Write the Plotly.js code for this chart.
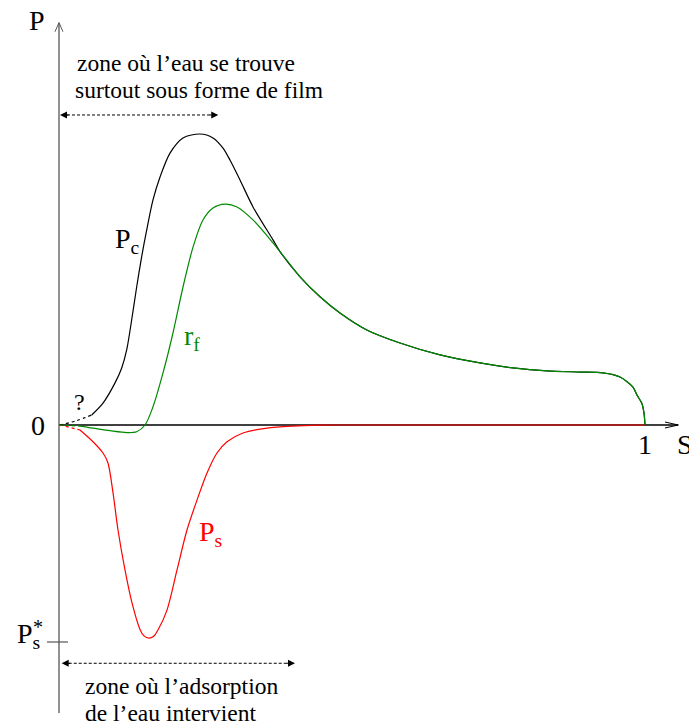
<!DOCTYPE html>
<html>
<head>
<meta charset="utf-8">
<script src="https://cdn.plot.ly/plotly-3.0.1.min.js"></script>
<style>
  html, body { margin: 0; padding: 0; background: #fff; }
  #chart { width: 689px; height: 727px; }
</style>
</head>
<body>
<div id="chart"></div>
<script>
// Saturation S (x) against pressure P (y); P_s* is the depth of the adsorption well (P = -1).

// Capillary pressure P_c, rising branch (solid part)
const S_pc = [0.0558, 0.0751, 0.0956, 0.107, 0.1155, 0.124, 0.1326, 0.1411, 0.1497, 0.1604,
              0.1724, 0.1894, 0.2116, 0.2406, 0.2628, 0.2799, 0.2918, 0.3089, 0.3311, 0.3652];
const P_pc = [0.046, 0.101, 0.194, 0.263, 0.346, 0.484, 0.637, 0.776, 0.899, 1.037,
              1.143, 1.253, 1.323, 1.341, 1.323, 1.276, 1.221, 1.129, 1.005, 0.853];
// P_c near S = 0 (uncertain, dotted)
const S_pcLow = [0.0017, 0.03, 0.0558];
const P_pcLow = [0.0, 0.02, 0.046];

// Film term r_f, rising branch (solid part)
const S_rf = [0.0358, 0.087, 0.1155, 0.1326, 0.1468, 0.1604, 0.1775, 0.1945, 0.2116, 0.2287,
              0.2457, 0.2628, 0.2833, 0.3038, 0.3311, 0.3652];
const P_rf = [-0.005, -0.026, -0.035, -0.031, 0.0, 0.084, 0.24, 0.424, 0.636, 0.82,
              0.945, 1.0, 1.018, 1.005, 0.945, 0.839];
const S_rfLow = [0.0017, 0.0358];
const P_rfLow = [0.0, -0.005];

// Common decreasing branch of P_c and r_f up to S = 1
const S_tail = [0.3771, 0.4113, 0.4454, 0.4795, 0.5251, 0.5819, 0.6502, 0.7184, 0.7747, 0.8328,
                0.8891, 0.9283, 0.9573, 0.9795, 0.9863, 0.9944, 0.9983, 1.0];
const P_tail = [0.799, 0.683, 0.591, 0.516, 0.438, 0.378, 0.323, 0.286, 0.263, 0.249,
                0.244, 0.24, 0.221, 0.175, 0.138, 0.101, 0.055, 0.0];

// Adsorption pressure P_s
const S_ps = [0.0358, 0.058, 0.0751, 0.0836, 0.0922, 0.1007, 0.1126, 0.1246, 0.1382, 0.1450,
              0.1536, 0.1621, 0.1689, 0.1843, 0.2014, 0.2184, 0.2355, 0.2526, 0.2696, 0.2867,
              0.314, 0.355, 0.3993, 0.4454, 0.4795, 0.6, 0.8, 1.0];
const P_ps = [-0.023, -0.077, -0.129, -0.175, -0.313, -0.484, -0.668, -0.82, -0.942, -0.972,
              -0.982, -0.972, -0.945, -0.853, -0.668, -0.484, -0.346, -0.221, -0.129, -0.077,
              -0.037, -0.014, -0.005, -0.001, 0.0, 0.0, 0.0, 0.0];
const S_psLow = [0.0017, 0.0358];
const P_psLow = [0.0, -0.023];

// Reference level and zone extents
const PS_STAR = -1;
const filmZone = [0.0017, 0.2718];
const adsorptionZone = [0.0046, 0.4027];

const BLACK = '#000000', GREEN = '#008a00', RED = '#ff0000', GREY = '#555555';
const FONT = 'Liberation Serif, Times New Roman, serif';

function curve(x, y, color, dash) {
  return {
    x: x, y: y, type: 'scatter', mode: 'lines', hoverinfo: 'skip', showlegend: false,
    line: { color: color, width: 1.2, dash: dash || 'solid', shape: 'spline', smoothing: 0.8 }
  };
}

const data = [
  curve(S_ps, P_ps, RED),
  curve(S_psLow, P_psLow, RED, 'dot'),
  curve(S_pc.concat(S_tail), P_pc.concat(P_tail), BLACK),
  curve(S_pcLow, P_pcLow, BLACK, 'dot'),
  curve(S_rf.concat(S_tail), P_rf.concat(P_tail), GREEN),
  curve(S_rfLow, P_rfLow, GREEN, 'dot')
];

// Axis geometry (data units)
const X_END = 1.0568, Y_TOP = 1.854, Y_BOT = -1.327;

const shapes = [
  // S axis with open arrow
  { type: 'line', layer: 'below', x0: 0, x1: X_END, y0: 0, y1: 0, line: { color: BLACK, width: 1.3 } },
  { type: 'line', x0: X_END - 0.0227, x1: X_END, y0: 0.0138, y1: 0, line: { color: BLACK, width: 1 } },
  { type: 'line', x0: X_END - 0.0227, x1: X_END, y0: -0.0138, y1: 0, line: { color: BLACK, width: 1 } },
  // P axis with open arrow
  { type: 'line', layer: 'below', x0: 0, x1: 0, y0: Y_BOT, y1: Y_TOP, line: { color: GREY, width: 1.3 } },
  { type: 'line', x0: -0.0068, x1: 0, y0: Y_TOP - 0.0415, y1: Y_TOP, line: { color: GREY, width: 1 } },
  { type: 'line', x0: 0.0068, x1: 0, y0: Y_TOP - 0.0415, y1: Y_TOP, line: { color: GREY, width: 1 } },
  // P_s* tick
  { type: 'line', x0: -0.0205, x1: 0.0154, y0: PS_STAR, y1: PS_STAR, line: { color: GREY, width: 1.2 } },
  // dashed zone spans
  { type: 'line', x0: filmZone[0] + 0.012, x1: filmZone[1] - 0.012, y0: 1.4286, y1: 1.4286,
    line: { color: BLACK, width: 1, dash: '3px,2px' } },
  { type: 'line', x0: adsorptionZone[0] + 0.012, x1: adsorptionZone[1] - 0.012, y0: -1.098, y1: -1.098,
    line: { color: BLACK, width: 1, dash: '3px,2px' } }
];

function head(x, y, dir) {
  return { x: x, y: y, xref: 'x', yref: 'y', text: '', showarrow: true, arrowhead: 2,
           arrowsize: 1.4, arrowwidth: 1, arrowcolor: BLACK, ax: 10 * dir, ay: 0, standoff: 0 };
}
function label(text, x, y, size, color, xanchor) {
  return { x: x, y: y, xref: 'x', yref: 'y', text: text, showarrow: false,
           xanchor: xanchor || 'center', yanchor: 'middle',
           font: { family: FONT, size: size, color: color || BLACK } };
}

const annotations = [
  head(filmZone[0], 1.4286, 1), head(filmZone[1], 1.4286, -1),
  head(adsorptionZone[0], -1.098, 1), head(adsorptionZone[1], -1.098, -1),
  label('zone où l’eau se trouve', 0.0273, 1.668, 23.5, BLACK, 'left'),
  label('surtout sous forme de film', 0.0233, 1.545, 23.5, BLACK, 'left'),
  label('zone où l’adsorption', 0.0405, -1.203, 23.5, BLACK, 'left'),
  label('de l’eau intervient', 0.0405, -1.325, 23.5, BLACK, 'left'),
  label('P', -0.037, 1.862, 28),
  label('0', -0.035, 0, 28),
  label('1', 1.0, -0.092, 28),
  label('S', 1.052, -0.092, 28, BLACK, 'left'),
  label('?', 0.035, 0.105, 24),
  label('P<sub>c</sub>', 0.117, 0.85, 28),
  label('r<sub>f</sub>', 0.227, 0.405, 28, GREEN),
  label('P<sub>s</sub>', 0.258, -0.5, 28, RED),
  label('P<sub>s</sub>', -0.052, -0.97, 28),
  label('*', -0.036, -0.93, 20)
];

const layout = {
  width: 689, height: 727,
  margin: { l: 0, r: 0, t: 0, b: 0 },
  paper_bgcolor: '#ffffff', plot_bgcolor: '#ffffff',
  showlegend: false,
  xaxis: { range: [-0.10068, 1.07509], visible: false, fixedrange: true },
  yaxis: { range: [-1.39171, 1.95853], visible: false, fixedrange: true },
  shapes: shapes,
  annotations: annotations
};

Plotly.newPlot('chart', data, layout, { staticPlot: true, displayModeBar: false });
</script>
</body>
</html>
